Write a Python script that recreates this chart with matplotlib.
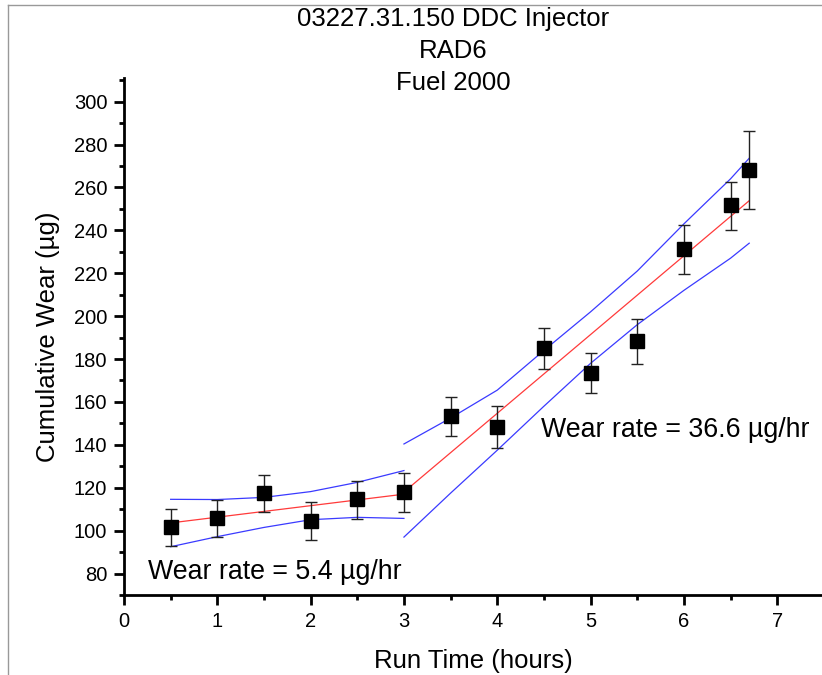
import matplotlib
matplotlib.use("Agg")
import matplotlib.pyplot as plt
from matplotlib.lines import Line2D
from matplotlib.ticker import MultipleLocator

plt.rcParams['font.family'] = ['Liberation Sans', 'DejaVu Sans']

# Measured data
run_time = [0.5, 1.0, 1.5, 2.0, 2.5, 3.0, 3.5, 4.0, 4.5, 5.0, 5.5, 6.0, 6.5, 6.7]
wear = [101.5, 105.9, 117.4, 104.7, 114.6, 117.9, 153.3, 148.5, 185.2, 173.5, 188.6, 231.1, 251.7, 268.3]
err_upper = [110.3, 114.3, 126.1, 113.4, 123.2, 126.7, 162.2, 158.1, 194.5, 183.0, 198.8, 242.3, 262.7, 286.2]
err_lower = [92.9, 96.9, 108.7, 95.8, 105.4, 108.5, 144.3, 138.6, 175.4, 164.0, 177.5, 219.7, 240.2, 250.0]

# Fit lines (segment 1: 0.5-3.0 h, segment 2: 3.0-6.7 h)
fit1_x = [0.5, 3.0]
fit1_y = [103.6, 117.0]
fit2_x = [3.0, 6.7]
fit2_y = [118.0, 253.8]

# Confidence bands
band1_x = [0.5, 1.0, 1.5, 2.0, 2.5, 3.0]
band1_upper = [114.6, 114.5, 115.5, 118.2, 122.5, 128.0]
band1_lower = [92.5, 97.2, 101.5, 105.1, 106.2, 105.7]
band2_x = [3.0, 3.5, 4.0, 4.5, 5.0, 5.5, 6.0, 6.5, 6.7]
band2_upper = [140.4, 152.5, 165.5, 184.0, 202.0, 221.0, 243.0, 264.0, 273.6]
band2_lower = [97.0, 117.5, 137.5, 158.0, 178.0, 196.0, 212.0, 227.0, 234.0]

title_lines = ["03227.31.150 DDC Injector", "RAD6", "Fuel 2000"]
note1 = "Wear rate = 5.4 \u00b5g/hr"
note2 = "Wear rate = 36.6 \u00b5g/hr"

fig = plt.figure(figsize=(8.22, 6.75), dpi=100)
ax = fig.add_axes([124/822, 80/675, 1 - 124/822, (597-80)/675])

blue = '#3a3aff'
red = '#ff3a3a'
ax.plot(band1_x, band1_upper, color=blue, lw=0.9)
ax.plot(band1_x, band1_lower, color=blue, lw=0.9)
ax.plot(band2_x, band2_upper, color=blue, lw=0.9)
ax.plot(band2_x, band2_lower, color=blue, lw=0.9)
ax.plot(fit1_x, fit1_y, color=red, lw=0.9)
ax.plot(fit2_x, fit2_y, color=red, lw=0.9)

yerr = [[w - l for w, l in zip(wear, err_lower)], [u - w for w, u in zip(wear, err_upper)]]
ax.errorbar(run_time, wear, yerr=yerr, fmt='s', color='black', ecolor='#222222',
            elinewidth=1.0, capsize=4.5, capthick=1.0, markersize=9.5, zorder=5)

ax.set_xlim(0, 7.48)
ax.set_ylim(70, 311)
ax.xaxis.set_minor_locator(MultipleLocator(0.5))
ax.yaxis.set_minor_locator(MultipleLocator(10))
ax.set_yticks(range(80, 301, 20))
ax.set_xticks(range(0, 8))

for s in ['top', 'right']:
    ax.spines[s].set_visible(False)
for s in ['left', 'bottom']:
    ax.spines[s].set_linewidth(2.0)

ax.tick_params(which='major', direction='out', length=7, width=2.0, labelsize=14.5, pad=5)
ax.tick_params(which='minor', direction='out', length=3.5, width=2.0)

ax.set_xlabel("Run Time (hours)", fontsize=18.5, labelpad=13)
ax.set_ylabel("Cumulative Wear (\u00b5g)", fontsize=18.5, labelpad=10)

ax.text(0.26, 80.9, note1, fontsize=19.3, va='center', ha='left')
ax.text(4.47, 147, note2, fontsize=19.3, va='center', ha='left')

for i, t in enumerate(title_lines):
    fig.text(453/822, 1 - (19 + 32*i)/675, t, ha='center', va='center', fontsize=18.5)

# Thin gray frame lines (top and left)
fig.add_artist(Line2D([8/822, 1.0], [1 - 5/675, 1 - 5/675], color='#999999', lw=1.0,
                      transform=fig.transFigure))
fig.add_artist(Line2D([8/822, 8/822], [0, 1 - 5/675], color='#999999', lw=1.0,
                      transform=fig.transFigure))

fig.savefig("out.png", dpi=100)
